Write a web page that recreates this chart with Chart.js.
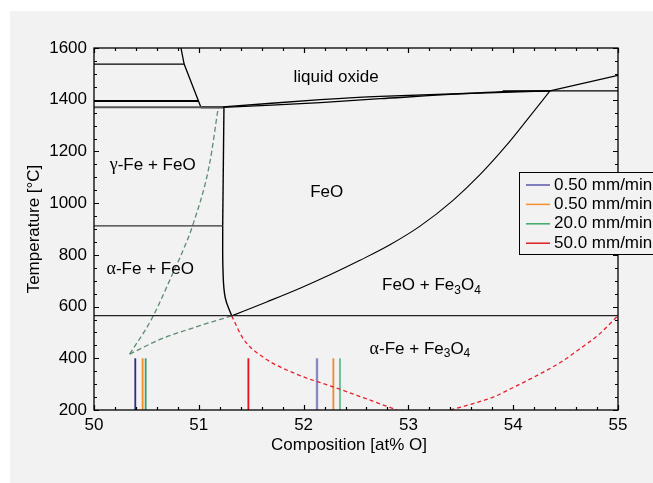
<!DOCTYPE html>
<html>
<head>
<meta charset="utf-8">
<script src="https://cdn.jsdelivr.net/npm/chart.js@4/dist/chart.umd.min.js"></script>
<style>
  html, body { margin: 0; padding: 0; background: #ffffff; }
  canvas { display: block; }
</style>
</head>
<body>
<canvas id="chart_feo" width="653" height="483"></canvas>
<script>
// axis ticks
const compTicks = [50, 51, 52, 53, 54, 55];
const tempTicks = [200, 400, 600, 800, 1000, 1200, 1400, 1600];

// phase boundaries, [at% O, °C]
const feLiquidus = [[50.83, 1600], [50.86, 1538], [51.02, 1371]];
const deltaLine = [[50, 1538], [50.86, 1538]];
const gammaDeltaLine = [[50, 1395], [51.0, 1395]];
const eutecticLine = [[50, 1371], [51.23, 1371]];
const eutecticJoin = [[51.02, 1371], [51.23, 1371]];
const alphaGammaLine = [[50, 912], [51.23, 912]];
const eutectoidLine = [[50, 565], [55, 565]];
const wustiteFeTop = [[51.24, 1371], [51.228, 912]];
const wustiteFeBottom = [[51.314, 564], [51.252, 635], [51.231, 740], [51.228, 912]];
const wustiteOSide = [[51.314, 564], [51.648, 618], [51.966, 671], [52.252, 723], [52.538, 779], [52.824, 839],
    [53.111, 911], [53.426, 1011], [53.683, 1110], [53.941, 1226], [54.132, 1322], [54.351, 1434]];
const oxideLiquidus = [[51.23, 1372], [52.16, 1400], [52.73, 1413], [54.351, 1434]];
const oxideSolidus = [[51.23, 1370], [52.16, 1389], [52.73, 1404], [53.9, 1431], [54.351, 1434]];
const peritecticLine = [[53.9, 1434], [55, 1434]];
const magnetiteLiquidus = [[54.351, 1434], [55, 1494]];

// metastable extrapolations
const gammaExtrap = [[50.34, 416], [50.55, 552], [50.757, 733], [50.862, 829], [50.94, 912], [51.10, 1146], [51.186, 1371]];
const alphaExtrap = [[50.34, 416], [50.63, 473], [51.01, 526], [51.314, 564]];
const wustiteExtrapLeft = [[51.314, 564], [51.425, 475], [51.615, 404], [51.93, 339], [52.25, 294], [52.52, 255], [52.89, 200]];
const wustiteExtrapRight = [[53.40, 200], [53.62, 225], [53.81, 250], [54.0, 287], [54.22, 332], [54.45, 384], [54.63, 435], [54.82, 493], [55, 565]];

// measured compositions after cooling
const markerComp = [50.394, 50.464, 50.493, 51.473, 52.128, 52.284, 52.347];
const markerColors = ['#2e2e7c', '#f08a24', '#38a060', '#e8101a', '#8c88c4', '#ee8c30', '#5cc088'];
const markerTemp = [200, 400];

const legendLabels = ['0.50 mm/min', '0.50 mm/min', '20.0 mm/min', '50.0 mm/min'];
const legendColors = ['#5a58a8', '#f0902c', '#3caa66', '#e01e24'];

const regionLabels = [
    {text: 'liquid oxide', x: 52.31, y: 1485},
    {text: 'γ-Fe + FeO', x: 50.56, y: 1147},
    {text: 'FeO', x: 52.22, y: 1043},
    {text: 'α-Fe + FeO', x: 50.536, y: 743},
    {text: 'FeO + Fe_3O_4', x: 53.22, y: 681},
    {text: 'α-Fe + Fe_3O_4', x: 53.11, y: 436},
];

const SANS = '"Liberation Sans", Arial, sans-serif';
const SERIF = '"Liberation Serif", "DejaVu Serif", serif';

function pts(arr) {
    return arr.map(p => ({x: p[0], y: p[1]}));
}

function solid(arr, width = 1.3, color = '#000000', tension = 0) {
    return {data: pts(arr), borderColor: color, borderWidth: width, tension: tension};
}

// smooth curve through points ordered along x
function smooth(arr, width = 1.2, color = '#000000') {
    return {data: pts(arr), borderColor: color, borderWidth: width, cubicInterpolationMode: 'monotone'};
}

function dashed(arr, color, dash, width = 1.3) {
    return {data: pts(arr), borderColor: color, borderWidth: width, borderDash: dash, cubicInterpolationMode: 'monotone'};
}

const datasets = [
    solid(deltaLine),
    solid(gammaDeltaLine, 1.8),
    solid(eutecticLine, 2, '#555555'),
    solid(eutecticJoin, 2.2),
    solid(alphaGammaLine, 1.3, '#333333'),
    solid(eutectoidLine, 1.3, '#222222'),
    solid(feLiquidus),
    solid(wustiteFeTop, 1.4),
    solid(wustiteFeBottom, 1.4, '#000000', 0.4),
    smooth(wustiteOSide, 1.1),
    solid(oxideLiquidus, 1.3, '#000000', 0.3),
    solid(oxideSolidus, 1.3, '#000000', 0.3),
    solid(peritecticLine, 1.1),
    solid(magnetiteLiquidus, 1.3),
    dashed(gammaExtrap, '#5b8c6e', [5, 3]),
    dashed(alphaExtrap, '#5b8c6e', [5, 3]),
    dashed(wustiteExtrapLeft, '#e8202c', [4, 3]),
    dashed(wustiteExtrapRight, '#e8202c', [4, 3]),
];

markerComp.forEach((c, i) => {
    datasets.push({
        data       : markerTemp.map(t => ({x: c, y: t})),
        borderColor: markerColors[i],
        borderWidth: i === 4 ? 2.4 : 1.8,
        tension    : 0,
    });
});

datasets.forEach(ds => {
    ds.showLine = true;
    ds.pointRadius = 0;
    ds.pointHoverRadius = 0;
});

function drawRich(ctx, text, cx, cy) {
    const runs = [];
    for (let i = 0; i < text.length; i++) {
        const ch = text[i];
        if (ch === '_') {
            runs.push({t: text[++i], sub: true});
            continue;
        }
        const greek = /[\u03b1-\u03c9]/.test(ch);
        const last = runs[runs.length - 1];
        if (last && !last.sub && last.greek === greek) last.t += ch;
        else runs.push({t: ch, greek: greek, sub: false});
    }
    runs.forEach(r => {
        r.font = r.sub ? '12px ' + SANS : (r.greek ? '18px ' + SERIF : '17px ' + SANS);
        ctx.font = r.font;
        r.w = ctx.measureText(r.t).width;
    });
    const total = runs.reduce((s, r) => s + r.w, 0);
    let x = cx - total / 2;
    ctx.textAlign = 'left';
    ctx.textBaseline = 'middle';
    ctx.fillStyle = '#000000';
    runs.forEach(r => {
        ctx.font = r.font;
        ctx.fillText(r.t, x, r.sub ? cy + 5 : cy);
        x += r.w;
    });
}

const panelPlugin = {
    id: 'panel',
    beforeDraw(chart) {
        const ctx = chart.ctx;
        ctx.save();
        ctx.fillStyle = '#ffffff';
        ctx.fillRect(0, 0, chart.width, chart.height);
        ctx.fillStyle = '#f2f2f2';
        ctx.fillRect(10, 11, chart.width - 10, chart.height - 11);
        ctx.restore();
    },
};

const framePlugin = {
    id: 'frame',
    afterDatasetsDraw(chart) {
        const ctx = chart.ctx;
        const a = chart.chartArea;
        const xs = chart.scales.x;
        const ys = chart.scales.y;
        ctx.save();
        ctx.strokeStyle = '#000000';
        ctx.lineWidth = 1.3;
        ctx.strokeRect(a.left, a.top, a.right - a.left, a.bottom - a.top);

        // inward ticks, minor every 0.2 at% and every 50 °C
        ctx.lineWidth = 1.2;
        ctx.beginPath();
        for (let v = 50; v <= 55.001; v += 0.2) {
            const px = Math.round(xs.getPixelForValue(v)) + 0.5;
            const len = Math.abs(v - Math.round(v)) < 1e-6 ? 5 : 3;
            ctx.moveTo(px, a.bottom);
            ctx.lineTo(px, a.bottom - len);
            ctx.moveTo(px, a.top);
            ctx.lineTo(px, a.top + len);
        }
        for (let t = 200; t <= 1600; t += 50) {
            const py = Math.round(ys.getPixelForValue(t)) + 0.5;
            const len = t % 200 === 0 ? 5 : 3;
            ctx.moveTo(a.left, py);
            ctx.lineTo(a.left + len, py);
            ctx.moveTo(a.right, py);
            ctx.lineTo(a.right - len, py);
        }
        ctx.stroke();

        regionLabels.forEach(l => {
            drawRich(ctx, l.text, xs.getPixelForValue(l.x), ys.getPixelForValue(l.y));
        });

        // axis titles
        ctx.fillStyle = '#000000';
        ctx.font = '17px ' + SANS;
        ctx.textAlign = 'center';
        ctx.textBaseline = 'middle';
        ctx.fillText('Composition [at% O]', (a.left + a.right) / 2 - 7, a.bottom + 35);
        ctx.save();
        ctx.translate(a.left - 60, (a.top + a.bottom) / 2);
        ctx.rotate(-Math.PI / 2);
        ctx.fillText('Temperature [°C]', 0, 0);
        ctx.restore();

        // legend box, running past the right edge
        const lx = 519.5, ly = 172.5, lh = 82;
        ctx.fillStyle = '#f2f2f2';
        ctx.fillRect(lx, ly, 200, lh);
        ctx.strokeStyle = '#000000';
        ctx.lineWidth = 1;
        ctx.strokeRect(lx, ly, 200, lh);
        ctx.font = '17px ' + SANS;
        ctx.textAlign = 'left';
        legendLabels.forEach((lab, i) => {
            const y = ly + 12.5 + i * 19.4;
            ctx.strokeStyle = legendColors[i];
            ctx.lineWidth = 1.5;
            ctx.beginPath();
            ctx.moveTo(526, y);
            ctx.lineTo(550, y);
            ctx.stroke();
            ctx.fillStyle = '#000000';
            ctx.fillText(lab, 554, y);
        });
        ctx.restore();
    },
};

new Chart(document.getElementById('chart_feo'), {
    type   : 'scatter',
    data   : {datasets: datasets},
    options: {
        responsive: false,
        animation : false,
        events    : [],
        layout    : {padding: {left: 0, right: 35, top: 48, bottom: 0}},
        plugins   : {
            legend : {display: false},
            tooltip: {enabled: false},
        },
        scales    : {
            x: {
                type           : 'linear',
                min            : 50,
                max            : 55,
                afterBuildTicks: s => { s.ticks = compTicks.map(v => ({value: v})); },
                afterFit       : s => { s.height = 73; },
                ticks          : {color: '#000000', font: {size: 17, family: SANS}, padding: 5, maxRotation: 0, callback: v => String(v)},
                grid           : {display: false, drawTicks: false},
                border         : {display: false},
            },
            y: {
                type           : 'linear',
                min            : 200,
                max            : 1600,
                afterBuildTicks: s => { s.ticks = tempTicks.map(v => ({value: v})); },
                afterFit       : s => { s.width = 94; },
                ticks          : {color: '#000000', font: {size: 17, family: SANS}, padding: 7, callback: v => String(v)},
                grid           : {display: false, drawTicks: false},
                border         : {display: false},
            },
        },
    },
    plugins: [panelPlugin, framePlugin],
});
</script>
</body>
</html>
